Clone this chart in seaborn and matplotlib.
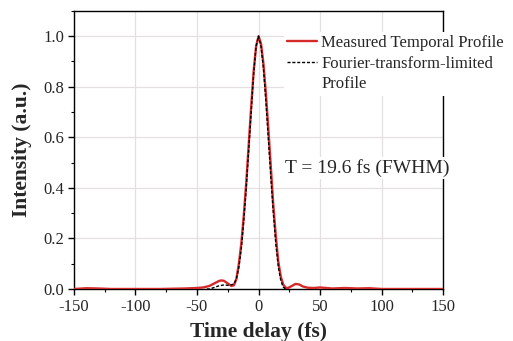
import numpy as np
import pandas as pd
import matplotlib
matplotlib.use("Agg")
import matplotlib.pyplot as plt
from matplotlib.lines import Line2D
from matplotlib.ticker import MultipleLocator, FormatStrFormatter
import seaborn as sns

# ---- data ----
meas_t = [-150, -140, -130, -120, -100, -80, -60, -50, -45, -40, -36, -32, -30, -28,
          -25, -22, -20, -18, -16, -14, -12, -10, -8, -6, -4, -2, 0, 2, 4, 6, 8,
          10, 12, 14, 16, 18, 20, 22, 24, 27, 30, 33, 36, 40, 45, 50, 55, 60, 70,
          80, 90, 100, 120, 150]
meas_i = [0.0, 0.003, 0.002, 0.0, 0.0, 0.0, 0.002, 0.004, 0.006, 0.012, 0.022,
          0.032, 0.034, 0.032, 0.022, 0.012, 0.015, 0.04, 0.10, 0.18, 0.29, 0.42,
          0.57, 0.72, 0.86, 0.96, 1.0, 0.97, 0.89, 0.77, 0.63, 0.48, 0.33, 0.21,
          0.11, 0.05, 0.018, 0.005, 0.004, 0.012, 0.02, 0.018, 0.01, 0.005, 0.004,
          0.006, 0.004, 0.002, 0.004, 0.002, 0.003, 0.0, 0.0, 0.0]

ftl_t = [-42, -40, -36, -32, -28, -24, -20, -18, -16, -14, -12, -10, -8, -6, -4,
         -2, 0, 2, 4, 6, 8, 10, 12, 14, 16, 18, 20, 22]
ftl_i = [0.0, 0.0, 0.006, 0.013, 0.016, 0.014, 0.02, 0.04, 0.085, 0.16, 0.27,
         0.40, 0.55, 0.70, 0.85, 0.96, 1.0, 0.96, 0.87, 0.74, 0.59, 0.44, 0.30,
         0.18, 0.09, 0.035, 0.008, 0.0]

df_meas = pd.DataFrame({"t": meas_t, "I": meas_i})
df_ftl = pd.DataFrame({"t": ftl_t, "I": ftl_i})

sns.set_style("whitegrid")
plt.rcParams['font.family'] = ['Liberation Serif', 'DejaVu Serif']
plt.rcParams['axes.unicode_minus'] = False

fig = plt.figure(figsize=(5.13, 3.41), dpi=100)
ax = fig.add_axes([0.144, 0.1525, 0.72, 0.8155])

sns.lineplot(data=df_meas, x="t", y="I", ax=ax, color="#d42a2a", linewidth=1.7,
             label="Measured Temporal Profile", zorder=3)
sns.lineplot(data=df_ftl, x="t", y="I", ax=ax, color="black", linewidth=1.0,
             linestyle=(0, (2.2, 1.3)), label="Fourier-transform-limited", zorder=4)

ax.set_xlim(-150, 150)
ax.set_ylim(0, 1.1)
ax.xaxis.set_major_locator(MultipleLocator(50))
ax.xaxis.set_minor_locator(MultipleLocator(25))
ax.yaxis.set_major_locator(MultipleLocator(0.2))
ax.yaxis.set_minor_locator(MultipleLocator(0.1))
ax.yaxis.set_major_formatter(FormatStrFormatter('%.1f'))

ax.grid(True, which='major', color='#e4e0e0', linewidth=0.9)
ax.grid(False, which='minor')
for s in ax.spines.values():
    s.set_color('black')
    s.set_linewidth(1.0)
ax.tick_params(which='both', direction='out', bottom=True, left=True, top=False,
               right=False, color='black')
ax.tick_params(which='major', length=4, width=1.0, labelsize=12, pad=3)
ax.tick_params(which='minor', length=2.5, width=0.8)

ax.set_xlabel("Time delay (fs)", fontsize=15.5, fontweight='bold', labelpad=5)
ax.set_ylabel("Intensity (a.u.)", fontsize=15.5, fontweight='bold', labelpad=8)

# the second label wraps onto a third row with no handle, as in the original
handles, labels = ax.get_legend_handles_labels()
handles.append(Line2D([], [], color='none'))
labels.append("Profile")
leg = ax.legend(handles, labels, loc='upper left', bbox_to_anchor=(0.568, 0.925),
                fontsize=12, frameon=True, framealpha=1.0, edgecolor='none',
                facecolor='white', handlelength=1.8, handletextpad=0.25,
                borderpad=0.2, borderaxespad=0, labelspacing=0.28, fancybox=False)
leg.set_zorder(10)

ax.text(0.572, 0.435, "T = 19.6 fs (FWHM)", transform=ax.transAxes, fontsize=14,
        va='center', ha='left', clip_on=False, zorder=10,
        bbox=dict(facecolor='white', edgecolor='none', pad=1.5))

fig.savefig("out.png", dpi=100)
